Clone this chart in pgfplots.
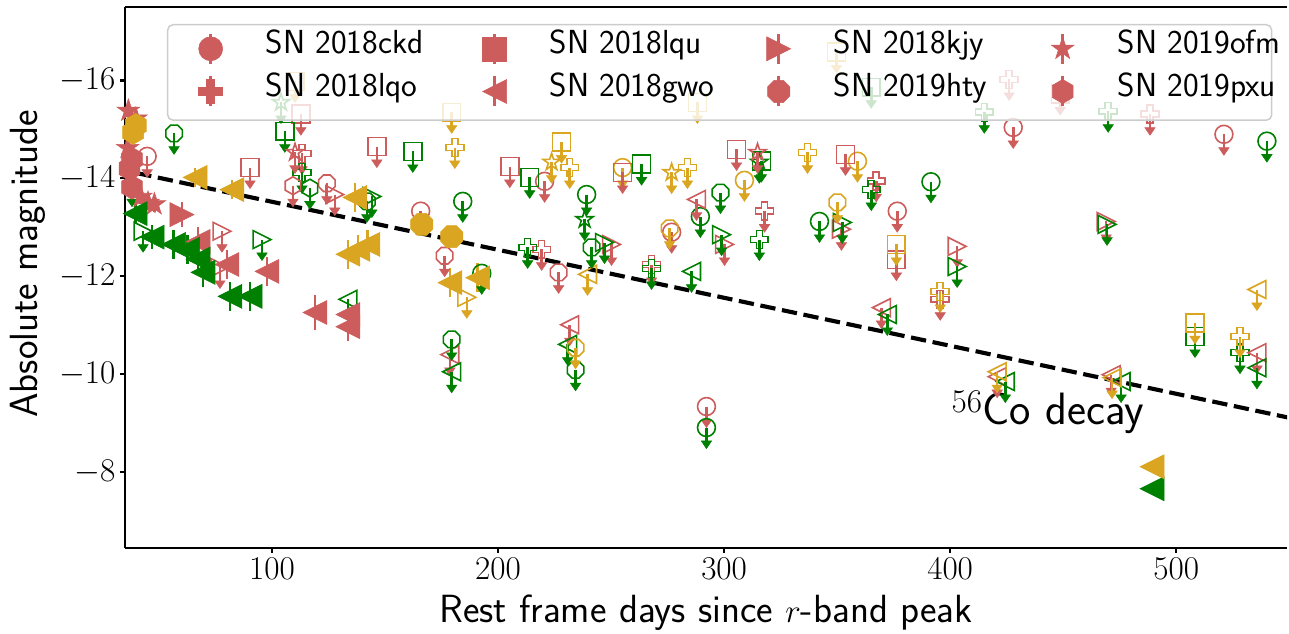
\documentclass[border=0pt]{standalone}
\usepackage{pgfplots}
\pgfplotsset{compat=1.18}
\renewcommand{\familydefault}{\sfdefault}

\definecolor{snr}{HTML}{CD5C5C}
\definecolor{sng}{HTML}{008000}
\definecolor{sny}{HTML}{DAA520}

% marker outlines, radius = \pgfplotmarksize
\def\mkcirc{\pgfpathcircle{\pgfpointorigin}{\pgfplotmarksize}}
\def\mkplus{%
 \pgfpathmoveto{\pgfqpoint{-.333\pgfplotmarksize}{-\pgfplotmarksize}}%
 \pgfpathlineto{\pgfqpoint{.333\pgfplotmarksize}{-\pgfplotmarksize}}%
 \pgfpathlineto{\pgfqpoint{.333\pgfplotmarksize}{-.333\pgfplotmarksize}}%
 \pgfpathlineto{\pgfqpoint{\pgfplotmarksize}{-.333\pgfplotmarksize}}%
 \pgfpathlineto{\pgfqpoint{\pgfplotmarksize}{.333\pgfplotmarksize}}%
 \pgfpathlineto{\pgfqpoint{.333\pgfplotmarksize}{.333\pgfplotmarksize}}%
 \pgfpathlineto{\pgfqpoint{.333\pgfplotmarksize}{\pgfplotmarksize}}%
 \pgfpathlineto{\pgfqpoint{-.333\pgfplotmarksize}{\pgfplotmarksize}}%
 \pgfpathlineto{\pgfqpoint{-.333\pgfplotmarksize}{.333\pgfplotmarksize}}%
 \pgfpathlineto{\pgfqpoint{-\pgfplotmarksize}{.333\pgfplotmarksize}}%
 \pgfpathlineto{\pgfqpoint{-\pgfplotmarksize}{-.333\pgfplotmarksize}}%
 \pgfpathlineto{\pgfqpoint{-.333\pgfplotmarksize}{-.333\pgfplotmarksize}}%
 \pgfpathclose}
\def\mksq{\pgfpathrectanglecorners{\pgfqpoint{-\pgfplotmarksize}{-\pgfplotmarksize}}{\pgfqpoint{\pgfplotmarksize}{\pgfplotmarksize}}}
\def\mklt{%
 \pgfpathmoveto{\pgfqpoint{-\pgfplotmarksize}{0pt}}%
 \pgfpathlineto{\pgfqpoint{\pgfplotmarksize}{\pgfplotmarksize}}%
 \pgfpathlineto{\pgfqpoint{\pgfplotmarksize}{-\pgfplotmarksize}}%
 \pgfpathclose}
\def\mkrt{%
 \pgfpathmoveto{\pgfqpoint{\pgfplotmarksize}{0pt}}%
 \pgfpathlineto{\pgfqpoint{-\pgfplotmarksize}{\pgfplotmarksize}}%
 \pgfpathlineto{\pgfqpoint{-\pgfplotmarksize}{-\pgfplotmarksize}}%
 \pgfpathclose}
\def\mkoct{%
 \pgfpathmoveto{\pgfpointpolar{22.5}{\pgfplotmarksize}}%
 \pgfpathlineto{\pgfpointpolar{67.5}{\pgfplotmarksize}}%
 \pgfpathlineto{\pgfpointpolar{112.5}{\pgfplotmarksize}}%
 \pgfpathlineto{\pgfpointpolar{157.5}{\pgfplotmarksize}}%
 \pgfpathlineto{\pgfpointpolar{202.5}{\pgfplotmarksize}}%
 \pgfpathlineto{\pgfpointpolar{247.5}{\pgfplotmarksize}}%
 \pgfpathlineto{\pgfpointpolar{292.5}{\pgfplotmarksize}}%
 \pgfpathlineto{\pgfpointpolar{337.5}{\pgfplotmarksize}}%
 \pgfpathclose}
\def\mkhex{%
 \pgfpathmoveto{\pgfpointpolar{90}{\pgfplotmarksize}}%
 \pgfpathlineto{\pgfpointpolar{150}{\pgfplotmarksize}}%
 \pgfpathlineto{\pgfpointpolar{210}{\pgfplotmarksize}}%
 \pgfpathlineto{\pgfpointpolar{270}{\pgfplotmarksize}}%
 \pgfpathlineto{\pgfpointpolar{330}{\pgfplotmarksize}}%
 \pgfpathlineto{\pgfpointpolar{30}{\pgfplotmarksize}}%
 \pgfpathclose}
\def\mkstar{%
 \pgfpathmoveto{\pgfpointpolar{90}{\pgfplotmarksize}}%
 \pgfpathlineto{\pgfpointpolar{126}{0.382\pgfplotmarksize}}%
 \pgfpathlineto{\pgfpointpolar{162}{\pgfplotmarksize}}%
 \pgfpathlineto{\pgfpointpolar{198}{0.382\pgfplotmarksize}}%
 \pgfpathlineto{\pgfpointpolar{234}{\pgfplotmarksize}}%
 \pgfpathlineto{\pgfpointpolar{270}{0.382\pgfplotmarksize}}%
 \pgfpathlineto{\pgfpointpolar{306}{\pgfplotmarksize}}%
 \pgfpathlineto{\pgfpointpolar{342}{0.382\pgfplotmarksize}}%
 \pgfpathlineto{\pgfpointpolar{18}{\pgfplotmarksize}}%
 \pgfpathlineto{\pgfpointpolar{54}{0.382\pgfplotmarksize}}%
 \pgfpathclose}
% downward arrow of an upper limit
\def\mkarrow{%
 \pgfsetlinewidth{1.9pt}%
 \pgfpathmoveto{\pgfpointorigin}\pgfpathlineto{\pgfqpoint{0pt}{-10.5pt}}\pgfusepathqstroke
 \pgfsetlinewidth{0.4pt}%
 \pgfpathmoveto{\pgfqpoint{-3.9pt}{-10pt}}\pgfpathlineto{\pgfqpoint{3.9pt}{-10pt}}%
 \pgfpathlineto{\pgfqpoint{0pt}{-15.75pt}}\pgfpathclose\pgfusepathqfillstroke}

% detections: filled
\pgfdeclareplotmark{dcirc}{\mkcirc\pgfusepathqfillstroke}
\pgfdeclareplotmark{dplus}{\mkplus\pgfusepathqfillstroke}
\pgfdeclareplotmark{dsq}{\mksq\pgfusepathqfillstroke}
\pgfdeclareplotmark{dlt}{\mklt\pgfusepathqfillstroke}
\pgfdeclareplotmark{drt}{\mkrt\pgfusepathqfillstroke}
\pgfdeclareplotmark{doct}{\mkoct\pgfusepathqfillstroke}
\pgfdeclareplotmark{dhex}{\mkhex\pgfusepathqfillstroke}
\pgfdeclareplotmark{dstar}{\mkstar\pgfusepathqfillstroke}
% upper limits: open marker with arrow
\pgfdeclareplotmark{ucirc}{\pgfsetlinewidth{1.2pt}\mkcirc\pgfusepathqstroke\mkarrow}
\pgfdeclareplotmark{uplus}{\pgfsetlinewidth{1.2pt}\mkplus\pgfusepathqstroke\mkarrow}
\pgfdeclareplotmark{usq}{\pgfsetlinewidth{1.2pt}\mksq\pgfusepathqstroke\mkarrow}
\pgfdeclareplotmark{ult}{\pgfsetlinewidth{1.2pt}\mklt\pgfusepathqstroke\mkarrow}
\pgfdeclareplotmark{urt}{\pgfsetlinewidth{1.2pt}\mkrt\pgfusepathqstroke\mkarrow}
\pgfdeclareplotmark{uoct}{\pgfsetlinewidth{1.2pt}\mkoct\pgfusepathqstroke\mkarrow}
\pgfdeclareplotmark{uhex}{\pgfsetlinewidth{1.2pt}\mkhex\pgfusepathqstroke\mkarrow}
\pgfdeclareplotmark{ustar}{\pgfsetlinewidth{1.2pt}\mkstar\pgfusepathqstroke\mkarrow}

\pgfplotsset{
  det/.style 2 args={only marks, mark=#1, color=#2, mark size=9pt,
    mark options={line width=0.4pt, solid, sharp corners}, forget plot,
    error bars/y dir=both, error bars/y explicit, error bars/error mark=none,
    error bars/error bar style={line width=2pt, solid}},
  ul/.style 2 args={only marks, mark=#1, color=#2, mark size=6.7pt,
    mark options={solid, sharp corners}, forget plot},
}
% fixed-width legend label
\newcommand\leg[1]{\makebox[106.5pt][l]{#1}}

\begin{document}
\begin{tikzpicture}
\useasboundingbox (-93.75pt,-63.75pt) rectangle (873pt,411pt);
\begin{axis}[
  at={(0pt,0pt)}, anchor=south west,
  scale only axis, width=871.5pt, height=405.75pt,
  xmin=35, xmax=549, ymin=-17.5, ymax=-6.45, y dir=reverse,
  axis x line*=box, axis y line*=left,
  tick pos=left, tick align=outside,
  xtick={100,200,300,400,500}, ytick={-16,-14,-12,-10,-8},
  major tick length=3.75pt,
  every tick/.style={black, line width=1.6pt},
  axis line style={line width=1.9pt},
  tick label style={font=\fontsize{27}{30}\selectfont},
  label style={font=\fontsize{29.5}{32}\selectfont},
  xlabel={Rest frame days since $r$-band peak},
  ylabel={Absolute magnitude},
  xlabel style={at={(axis description cs:0.5,-0.137)}, anchor=base},
  ylabel style={at={(axis description cs:-0.0757,0.525)}, anchor=base},
  legend columns=4, legend cell align=left,
  legend style={at={(axis description cs:0.0361,0.9686)}, anchor=north west,
    draw=black!20, line width=1.1pt, rounded corners=4pt,
    fill=white, fill opacity=0.8, draw opacity=1, text opacity=1,
    inner xsep=9pt, inner ysep=5.8pt, row sep=4pt,
    font=\fontsize{25}{29}\selectfont,
    nodes={inner sep=0pt, text height=0.69em, text depth=0pt},
    /tikz/every odd column/.append style={column sep=32.25pt},
    /tikz/every even column/.append style={column sep=42pt}},
  legend image code/.code={%
    \path[draw=none, fill=none] (-23.25pt,-15.75pt) rectangle (9pt,11.25pt);
    \draw[#1, sharp corners, fill opacity=1, line width=2pt] (0pt,-11.25pt) -- (0pt,11.25pt);
    \draw[#1, sharp corners, fill opacity=1, line width=0.4pt] plot coordinates {(0pt,0pt)};},
]

% 56Co decay slope
\addplot[black, line width=3.1pt, dash pattern=on 11.5pt off 5pt, forget plot]
  coordinates {(40,-14.11) (550,-9.11)};

% ---- upper limits ----
% SN 2018ckd
\addplot[ul={ucirc}{snr}] table[row sep=\\] {x y\\
44.8 -14.45\\ 165.8 -13.33\\ 220.6 -13.94\\ 276.8 -12.90\\ 292.2 -9.34\\
376.6 -13.33\\ 427.9 -15.04\\ 521.1 -14.90\\};
\addplot[ul={ucirc}{sng}] table[row sep=\\] {x y\\
184.4 -13.53\\ 239.2 -13.67\\ 289.5 -13.22\\ 292.2 -8.91\\ 342.2 -13.12\\
391.5 -13.93\\ 540.1 -14.76\\ 192.8 -12.06\\ 440.7 -17.75\\};
\addplot[ul={ucirc}{sny}] table[row sep=\\] {x y\\
255.1 -14.22\\ 309.0 -13.96\\ 359.0 -14.35\\};
% SN 2018lqo
\addplot[ul={uplus}{snr}] table[row sep=\\] {x y\\
113.3 -14.51\\ 219.3 -12.55\\ 317.9 -13.33\\ 367.3 -13.95\\ 395.6 -11.53\\
426.1 -16.02\\ 488.4 -15.31\\ 267.9 -12.24\\};
\addplot[ul={uplus}{sng}] table[row sep=\\] {x y\\
113.3 -14.12\\ 213.1 -12.59\\ 315.6 -12.75\\ 365.1 -13.77\\ 415.1 -15.35\\
469.9 -15.37\\ 528.2 -10.44\\ 267.9 -12.16\\};
\addplot[ul={uplus}{sny}] table[row sep=\\] {x y\\
180.9 -14.63\\ 231.7 -14.22\\ 283.8 -14.22\\ 336.9 -14.53\\ 395.6 -11.69\\
528.2 -10.77\\};
% SN 2018lqu
\addplot[ul={usq}{snr}] table[row sep=\\] {x y\\
90.3 -14.22\\ 112.8 -15.31\\ 146.4 -14.65\\ 205.2 -14.24\\ 255.1 -14.12\\
305.5 -14.59\\ 353.7 -14.49\\ 376.2 -12.34\\ 448.7 -15.72\\};
\addplot[ul={usq}{sng}] table[row sep=\\] {x y\\
105.7 -14.96\\ 162.3 -14.55\\ 214.0 -14.02\\ 263.5 -14.29\\ 316.5 -14.35\\
365.1 -15.86\\ 508.3 -10.77\\};
\addplot[ul={usq}{sny}] table[row sep=\\] {x y\\
110.2 -15.98\\ 179.5 -15.35\\ 228.1 -14.74\\ 288.2 -15.55\\ 349.7 -16.58\\
376.2 -12.65\\ 508.3 -11.05\\};
% SN 2018gwo
\addplot[ul={ult}{snr}] table[row sep=\\] {x y\\
287.8 -13.57\\ 178.7 -10.40\\ 231.7 -11.01\\ 369.6 -11.36\\ 420.8 -9.95\\
471.2 -9.99\\ 535.7 -10.44\\};
\addplot[ul={ult}{sng}] table[row sep=\\] {x y\\
133.6 -11.53\\ 285.6 -12.10\\ 179.5 -10.05\\ 230.8 -10.61\\ 372.2 -11.22\\
424.4 -9.85\\ 475.6 -9.85\\ 535.7 -10.13\\};
\addplot[ul={ult}{sny}] table[row sep=\\] {x y\\
239.6 -12.04\\ 535.7 -11.73\\ 420.8 -10.05\\ 471.6 -9.93\\};
% SN 2018kjy
\addplot[ul={urt}{snr}] table[row sep=\\] {x y\\
77.9 -12.92\\ 77.0 -12.18\\ 127.8 -13.67\\ 250.2 -12.65\\ 300.2 -12.65\\
351.9 -12.96\\ 403.1 -12.61\\ 469.0 -13.12\\};
\addplot[ul={urt}{sng}] table[row sep=\\] {x y\\
43.0 -12.92\\ 95.6 -12.75\\ 144.2 -13.63\\ 247.1 -12.69\\ 298.9 -12.85\\
352.3 -13.10\\ 403.1 -12.20\\ 469.4 -13.06\\};
\addplot[ul={urt}{sny}] table[row sep=\\] {x y\\
186.2 -11.57\\};
% SN 2019hty
\addplot[ul={uoct}{sng}] table[row sep=\\] {x y\\
56.7 -14.92\\ 142.0 -13.53\\ 241.4 -12.59\\ 298.4 -13.71\\ 179.5 -10.71\\
234.3 -10.09\\};
\addplot[ul={uoct}{snr}] table[row sep=\\] {x y\\
124.3 -13.90\\ 176.4 -12.42\\ 226.8 -12.08\\};
\addplot[ul={uoct}{sny}] table[row sep=\\] {x y\\
350.1 -13.51\\ 234.3 -10.54\\ 275.9 -12.98\\};
% SN 2019ofm
\addplot[ul={ustar}{sng}] table[row sep=\\] {x y\\
104.0 -15.55\\ 238.3 -13.16\\ 315.6 -14.33\\};
\addplot[ul={ustar}{snr}] table[row sep=\\] {x y\\
110.2 -14.53\\ 314.8 -14.53\\};
\addplot[ul={ustar}{sny}] table[row sep=\\] {x y\\
223.7 -14.33\\ 276.8 -14.12\\};
% SN 2019pxu
\addplot[ul={uhex}{snr}] table[row sep=\\] {x y\\
109.3 -13.85\\};
\addplot[ul={uhex}{sng}] table[row sep=\\] {x y\\
116.8 -13.80\\ 38.1 -13.85\\};

% ---- detections ----
\addplot[det={dstar}{snr}] table[row sep=\\, y error index=2] {x y e\\
36.5 -15.38 0.12\\ 39.8 -15.22 0.12\\ 36.2 -14.62 0.15\\ 42.0 -13.62 0.15\\
45.2 -13.50 0.15\\ 48.0 -13.47 0.15\\};
\addplot[det={dhex}{snr}] table[row sep=\\, y error index=2] {x y e\\
38.1 -14.39 0.15\\ 37.0 -14.20 0.15\\ 38.1 -13.82 0.15\\};
\addplot[det={dhex}{sny}] table[row sep=\\, y error index=2] {x y e\\
38.6 -14.94 0.12\\ 39.8 -15.08 0.12\\};
\addplot[det={drt}{snr}] table[row sep=\\, y error index=2] {x y e\\
60.2 -13.26 0.25\\};
\addplot[det={dlt}{snr}] table[row sep=\\, y error index=2] {x y e\\
67.3 -12.71 0.3\\ 80.1 -12.24 0.3\\ 97.8 -12.10 0.3\\ 119.0 -11.26 0.36\\
133.6 -11.22 0.3\\ 133.6 -10.97 0.3\\};
\addplot[det={dlt}{sng}] table[row sep=\\, y error index=2] {x y e\\
39.5 -13.28 0.2\\ 47.0 -12.80 0.25\\ 56.5 -12.65 0.3\\ 62.7 -12.55 0.3\\
67.3 -12.35 0.3\\ 69.5 -12.08 0.3\\ 81.4 -11.59 0.3\\ 90.3 -11.59 0.3\\
489.3 -7.66 0.1\\};
\addplot[det={dlt}{sny}] table[row sep=\\, y error index=2] {x y e\\
66.0 -14.02 0.2\\ 82.3 -13.77 0.2\\ 136.7 -13.61 0.3\\ 133.6 -12.45 0.3\\
138.0 -12.55 0.3\\ 142.4 -12.65 0.3\\ 178.7 -11.87 0.3\\ 191.0 -11.97 0.3\\
489.3 -8.11 0.1\\};
\addplot[det={doct}{sny}] table[row sep=\\, y error index=2] {x y e\\
166.3 -13.06 0.15\\ 179.5 -12.81 0.15\\};

\node[anchor=base west, inner sep=0pt, font=\fontsize{34}{38}\selectfont]
  at (axis cs:400.5,-8.97) {$^{56}$Co decay};

% legend, filled row by row
\addlegendimage{only marks, mark=dcirc, color=snr, mark size=9pt}
\addlegendentry{\leg{SN 2018ckd}}
\addlegendimage{only marks, mark=dsq, color=snr, mark size=9pt}
\addlegendentry{\leg{SN 2018lqu}}
\addlegendimage{only marks, mark=drt, color=snr, mark size=9pt}
\addlegendentry{\leg{SN 2018kjy}}
\addlegendimage{only marks, mark=dstar, color=snr, mark size=9pt}
\addlegendentry{\leg{SN 2019ofm}}
\addlegendimage{only marks, mark=dplus, color=snr, mark size=9pt}
\addlegendentry{\leg{SN 2018lqo}}
\addlegendimage{only marks, mark=dlt, color=snr, mark size=9pt}
\addlegendentry{\leg{SN 2018gwo}}
\addlegendimage{only marks, mark=doct, color=snr, mark size=9pt}
\addlegendentry{\leg{SN 2019hty}}
\addlegendimage{only marks, mark=dhex, color=snr, mark size=9pt}
\addlegendentry{\leg{SN 2019pxu}}
\end{axis}
\end{tikzpicture}
\end{document}
